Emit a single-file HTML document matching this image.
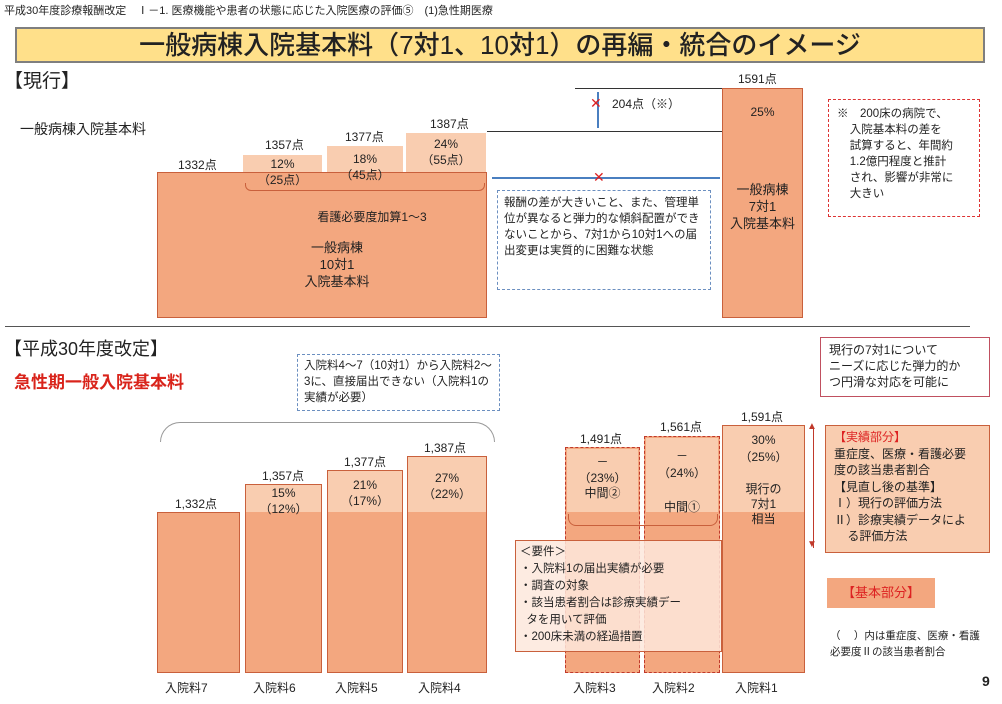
<!DOCTYPE html>
<html><head><meta charset="utf-8"><style>
body{margin:0;width:1002px;height:704px;background:#fff;position:relative;overflow:hidden;font-family:"Liberation Sans","Noto Sans CJK JP",sans-serif;color:#222}
div{position:absolute;box-sizing:border-box}
.t{white-space:nowrap;font-size:12px;line-height:1.3}
.c{text-align:center}
.dk{background:#f3a77f}
.lt{background:#f9cdb0}
.b{font-weight:bold}
</style></head><body>
<div class="t" style="left:4px;top:4px;font-size:11px">平成30年度診療報酬改定　Ⅰ－1. 医療機能や患者の状態に応じた入院医療の評価⑤　(1)急性期医療</div>
<div style="left:15px;top:27px;width:970px;height:36px;background:#ffe08a;border:2px solid #7f7f7f"></div>
<div class="t c" style="left:15px;top:29px;width:970px;font-size:26px;line-height:32px;font-weight:500">一般病棟入院基本料（7対1、10対1）の再編・統合のイメージ</div>
<div class="t" style="left:4px;top:70px;font-size:19px">【現行】</div>
<div class="t" style="left:20px;top:120px;font-size:14px">一般病棟入院基本料</div>

<div class="lt" style="left:243px;top:155px;width:79px;height:18px"></div>
<div class="lt" style="left:327px;top:146px;width:76px;height:27px"></div>
<div class="lt" style="left:406px;top:133px;width:80px;height:40px"></div>
<div class="dk" style="left:157px;top:172px;width:330px;height:146px;border:1px solid #c9603c"></div>
<div class="t" style="left:178px;top:158px">1332点</div>
<div class="t" style="left:265px;top:138px">1357点</div>
<div class="t" style="left:345px;top:130px">1377点</div>
<div class="t" style="left:430px;top:117px">1387点</div>
<div class="t c" style="left:243px;top:157px;width:79px">12%<br>（25点）</div>
<div class="t c" style="left:327px;top:152px;width:76px">18%<br>（45点）</div>
<div class="t c" style="left:406px;top:137px;width:80px">24%<br>（55点）</div>
<div style="left:245px;top:183px;width:240px;height:8px;border:1.5px solid #c9603c;border-top:none;border-radius:0 0 6px 6px"></div>
<div class="t c" style="left:157px;top:210px;width:430px">看護必要度加算1～3</div>
<div class="t c" style="left:157px;top:240px;width:360px;font-size:13px">一般病棟<br>10対1<br>入院基本料</div>

<div style="left:487px;top:131px;width:235px;border-top:1px solid #333"></div>
<div style="left:575px;top:88px;width:147px;border-top:1px solid #333"></div>
<div style="left:597px;top:92px;height:36px;border-left:2px solid #4a7fc0"></div>
<div class="t" style="left:590px;top:94px;color:#d22;font-size:14px">✕</div>
<div class="t" style="left:612px;top:97px">204点（※）</div>
<div style="left:492px;top:177px;width:228px;border-top:2px solid #4a7fc0"></div>
<div class="t" style="left:593px;top:168px;color:#d22;font-size:14px">✕</div>
<div class="t" style="left:497px;top:190px;width:214px;height:100px;border:1px dashed #6b8fc0;padding:4px 6px;white-space:normal;font-size:11.5px;line-height:16px">報酬の差が大きいこと、また、管理単位が異なると弾力的な傾斜配置ができないことから、7対1から10対1への届出変更は実質的に困難な状態</div>

<div class="dk" style="left:722px;top:88px;width:81px;height:230px;border:1px solid #c9603c"></div>
<div class="t" style="left:738px;top:72px">1591点</div>
<div class="t c" style="left:722px;top:105px;width:81px">25%</div>
<div class="t c" style="left:722px;top:182px;width:81px;font-size:13px">一般病棟<br>7対1<br>入院基本料</div>
<div class="t" style="left:828px;top:99px;width:152px;height:118px;border:1.5px dashed #d33;padding:6px 6px 6px 8px;white-space:normal;font-size:11.5px;line-height:16px">※　200床の病院で、<br>&nbsp;&nbsp;&nbsp;&nbsp;入院基本料の差を<br>&nbsp;&nbsp;&nbsp;&nbsp;試算すると、年間約<br>&nbsp;&nbsp;&nbsp;&nbsp;1.2億円程度と推計<br>&nbsp;&nbsp;&nbsp;&nbsp;され、影響が非常に<br>&nbsp;&nbsp;&nbsp;&nbsp;大きい</div>

<div style="left:5px;top:326px;width:965px;border-top:1.5px solid #555"></div>
<div class="t" style="left:4px;top:338px;font-size:18px">【平成30年度改定】</div>
<div class="t b" style="left:14px;top:372px;font-size:17px;color:#d9241b">急性期一般入院基本料</div>
<div class="t" style="left:297px;top:354px;width:203px;height:57px;border:1px dashed #6b8fc0;padding:3px 6px;white-space:normal;font-size:11.5px;line-height:16px">入院料4～7（10対1）から入院料2～3に、直接届出できない（入院料1の実績が必要）</div>
<div style="left:160px;top:422px;width:335px;height:20px;border:1px solid #999;border-bottom:none;border-radius:20px 20px 0 0"></div>

<div class="dk" style="left:157px;top:512px;width:83px;height:161px;border:1px solid #c9603c"></div>
<div class="dk" style="left:245px;top:484px;width:77px;height:189px;border:1px solid #c9603c"></div>
<div class="lt" style="left:246px;top:485px;width:75px;height:27px"></div>
<div class="dk" style="left:327px;top:470px;width:76px;height:203px;border:1px solid #c9603c"></div>
<div class="lt" style="left:328px;top:471px;width:74px;height:41px"></div>
<div class="dk" style="left:407px;top:456px;width:80px;height:217px;border:1px solid #c9603c"></div>
<div class="lt" style="left:408px;top:457px;width:78px;height:55px"></div>
<div class="t" style="left:175px;top:497px">1,332点</div>
<div class="t" style="left:262px;top:469px">1,357点</div>
<div class="t" style="left:344px;top:455px">1,377点</div>
<div class="t" style="left:424px;top:441px">1,387点</div>
<div class="t c" style="left:245px;top:486px;width:77px">15%<br>（12%）</div>
<div class="t c" style="left:327px;top:478px;width:76px">21%<br>（17%）</div>
<div class="t c" style="left:407px;top:471px;width:80px">27%<br>（22%）</div>

<div class="dk" style="left:565px;top:447px;width:75px;height:226px;border:1.5px dashed #c0392b"></div>
<div class="lt" style="left:567px;top:449px;width:71px;height:63px"></div>
<div class="dk" style="left:644px;top:436px;width:76px;height:237px;border:1.5px dashed #c0392b"></div>
<div class="lt" style="left:646px;top:438px;width:72px;height:74px"></div>
<div class="dk" style="left:722px;top:425px;width:83px;height:248px;border:1px solid #c9603c"></div>
<div class="lt" style="left:723px;top:426px;width:81px;height:86px"></div>
<div class="t" style="left:580px;top:432px">1,491点</div>
<div class="t" style="left:660px;top:420px">1,561点</div>
<div class="t" style="left:741px;top:410px">1,591点</div>
<div class="t c" style="left:565px;top:455px;width:75px">－<br>（23%）<br>中間②</div>
<div class="t c" style="left:644px;top:448px;width:76px;line-height:17px">－<br>（24%）<br><br>中間①</div>
<div class="t c" style="left:722px;top:432px;width:83px;line-height:17px">30%<br>（25%）</div>
<div class="t c" style="left:722px;top:482px;width:83px;line-height:15px">現行の<br>7対1<br>相当</div>
<div style="left:568px;top:514px;width:150px;height:12px;border:1.5px solid #c9603c;border-top:none;border-radius:0 0 8px 8px"></div>
<div class="t" style="left:515px;top:540px;width:207px;height:112px;background:rgba(253,232,220,0.85);border:1px solid #c9603c;padding:3px 4px;font-size:11.5px;line-height:17px;white-space:normal">＜要件＞<br>・入院料1の届出実績が必要<br>・調査の対象<br>・該当患者割合は診療実績デー<br>&nbsp;&nbsp;タを用いて評価<br>・200床未満の経過措置</div>
<div class="t" style="left:165px;top:681px">入院料7</div>
<div class="t" style="left:253px;top:681px">入院料6</div>
<div class="t" style="left:335px;top:681px">入院料5</div>
<div class="t" style="left:418px;top:681px">入院料4</div>
<div class="t" style="left:573px;top:681px">入院料3</div>
<div class="t" style="left:652px;top:681px">入院料2</div>
<div class="t" style="left:735px;top:681px">入院料1</div>

<div style="left:813px;top:428px;height:120px;border-left:1.5px solid #c0392b"></div>
<div class="t" style="left:807px;top:420px;color:#c0392b;font-size:10px">▲</div>
<div class="t" style="left:807px;top:538px;color:#c0392b;font-size:10px">▼</div>
<div class="t" style="left:820px;top:337px;width:170px;height:60px;border:1px solid #c05060;padding:4px 8px;font-size:12px;line-height:16px;white-space:normal">現行の7対1について<br>ニーズに応じた弾力的か<br>つ円滑な対応を可能に</div>
<div class="t lt" style="left:825px;top:425px;width:165px;height:128px;border:1px solid #c9603c;padding:3px 8px;font-size:12px;line-height:16.5px;white-space:normal"><span style="color:#d22">【実績部分】</span><br>重症度、医療・看護必要<br>度の該当患者割合<br>【見直し後の基準】<br>Ⅰ）現行の評価方法<br>Ⅱ）診療実績データによ<br>&nbsp;&nbsp;&nbsp;&nbsp;る評価方法</div>
<div class="t dk c" style="left:827px;top:578px;width:108px;height:30px;color:#d22;line-height:30px;font-size:13px">【基本部分】</div>
<div class="t" style="left:830px;top:628px;font-size:10.5px;line-height:16px">（　 ）内は重症度、医療・看護<br>必要度Ⅱの該当患者割合</div>
<div class="t b" style="left:982px;top:672px;font-size:14px">9</div>
</body></html>
